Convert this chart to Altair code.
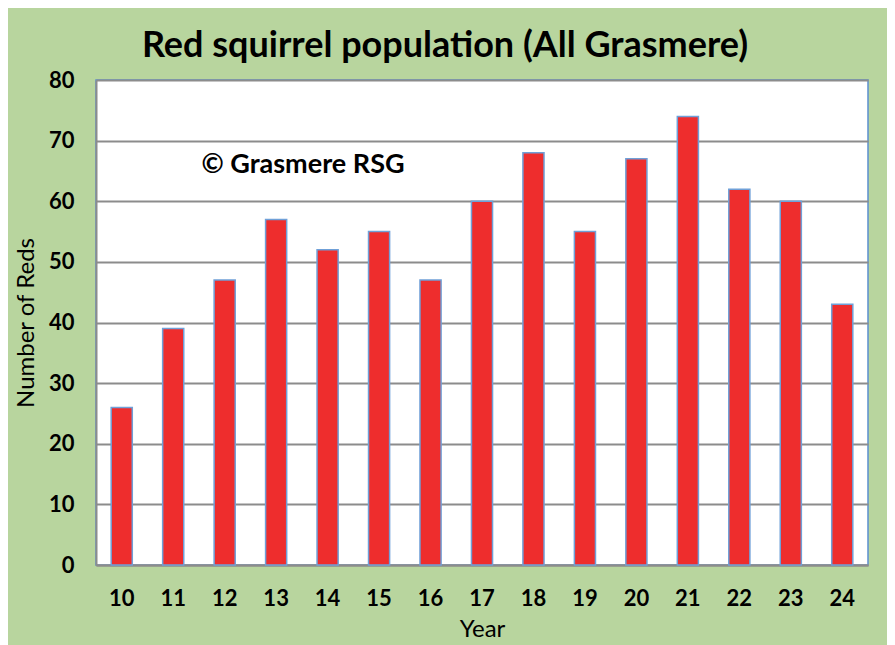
import altair as alt
import pandas as pd

years = ["10", "11", "12", "13", "14", "15", "16", "17", "18", "19", "20", "21", "22", "23", "24"]
reds = [26, 39, 47, 57, 52, 55, 47, 60, 68, 55, 67, 74, 62, 60, 43]

df = pd.DataFrame({"Year": years, "Reds": reds})

FONT = "Lato"

bars = alt.Chart(df).mark_bar(
    color="#EE2D2D", stroke="#6FA0D8", strokeWidth=1.5
).encode(
    x=alt.X("Year:N", sort=years, title="Year",
            scale=alt.Scale(paddingInner=0.59, paddingOuter=0.295),
            axis=alt.Axis(labelAngle=0, labelFontWeight="bold", labelFontSize=22,
                          labelFont=FONT, labelColor="black", labelPadding=23,
                          ticks=False, domainColor="#8C8C8C", domainWidth=2,
                          titleFont=FONT, titleFontSize=24, titleFontWeight="normal",
                          titleColor="black", titlePadding=8)),
    y=alt.Y("Reds:Q", title="Number of Reds",
            scale=alt.Scale(domain=[0, 80]),
            axis=alt.Axis(values=list(range(0, 81, 10)), labelFontWeight="bold",
                          labelFontSize=22, labelFont=FONT, labelColor="black",
                          labelPadding=22, ticks=False, domainColor="#8C8C8C",
                          domainWidth=2, gridColor="#8C8C8C", gridWidth=2,
                          titleFont=FONT, titleFontSize=24, titleFontWeight="normal",
                          titleColor="black", titlePadding=10)),
)

note = alt.Chart(pd.DataFrame({"t": ["© Grasmere RSG"], "v": [66]})).mark_text(
    font=FONT, fontSize=27, fontWeight="bold", color="black", align="center", baseline="middle"
).encode(text="t:N", y="v:Q", x=alt.value(207))

chart = (bars + note).properties(
    width=772, height=485,
    background="#B8D59E",
    padding={"left": 88, "top": 72, "right": 19, "bottom": 80},
    autosize=alt.AutoSizeParams(type="none"),
    title=alt.TitleParams("Red squirrel population (All Grasmere)", font=FONT,
                          fontSize=36, fontWeight="bold", color="black",
                          anchor="middle", offset=4, dx=-37),
).configure_view(stroke="#5B8FD0", strokeWidth=1.5, fill="white")

chart.save("out.html", embed_options={"renderer": "svg", "actions": False})
